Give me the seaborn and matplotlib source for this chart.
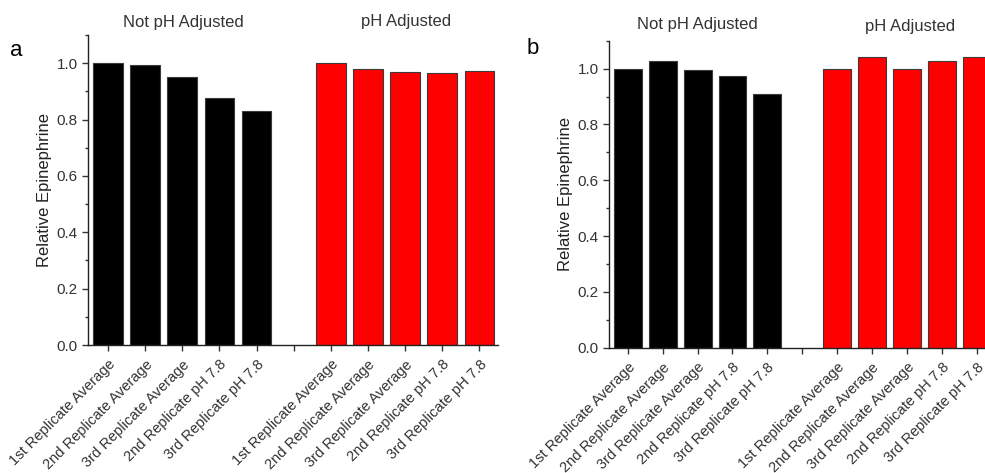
import pandas as pd
import matplotlib.pyplot as plt
import seaborn as sns
from matplotlib.ticker import MultipleLocator

# Data
labels = ["1st Replicate Average", "2nd Replicate Average", "3rd Replicate Average",
          "2nd Replicate pH 7.8", "3rd Replicate pH 7.8"]
group_names = ["Not pH Adjusted", "pH Adjusted"]

a_not_adjusted = [1.000, 0.993, 0.950, 0.877, 0.832]
a_adjusted = [1.000, 0.981, 0.968, 0.965, 0.971]
b_not_adjusted = [1.000, 1.028, 0.994, 0.975, 0.909]
b_adjusted = [1.000, 1.040, 1.000, 1.028, 1.040]

colors = {"Not pH Adjusted": "#000000", "pH Adjusted": "#ff0000"}
TEXT = "#333333"

sns.set_style("ticks")
plt.rcParams['font.family'] = ['Liberation Sans', 'DejaVu Sans']


def make_df(not_adj, adj):
    # positions 0-4, a blank slot at 5, then 6-10
    rows = []
    for i, v in enumerate(not_adj):
        rows.append({'pos': i, 'value': v, 'group': group_names[0]})
    for i, v in enumerate(adj):
        rows.append({'pos': i + 6, 'value': v, 'group': group_names[1]})
    return pd.DataFrame(rows)


def draw_panel(ax, df):
    sns.barplot(data=df, x='pos', y='value', hue='group', palette=colors,
                native_scale=True, dodge=False, width=0.8, saturation=1,
                edgecolor='#3a3a3a', linewidth=0.8, legend=False, ax=ax)
    ax.set_xlim(-0.54, 10.5)
    ax.set_ylim(0, 1.1)
    ax.set_xticks(range(11))
    ax.set_xticklabels(labels + [""] + labels, rotation=45, ha='right',
                       rotation_mode='anchor', fontsize=10.5, color=TEXT)
    ax.yaxis.set_minor_locator(MultipleLocator(0.1))
    ax.set_yticks([0, 0.2, 0.4, 0.6, 0.8, 1.0])
    ax.set_yticklabels(["0.0", "0.2", "0.4", "0.6", "0.8", "1.0"], fontsize=11, color=TEXT)
    ax.tick_params(axis='both', which='major', direction='out', length=4, width=1, color=TEXT)
    ax.tick_params(axis='y', which='minor', direction='out', length=2.5, width=1, color=TEXT)
    ax.tick_params(axis='x', pad=5)
    ax.set_xlabel("")
    ax.set_ylabel("Relative Epinephrine", fontsize=12, color="#222222", labelpad=3)
    for side in ['top', 'right']:
        ax.spines[side].set_visible(False)
    for side in ['left', 'bottom']:
        ax.spines[side].set_color('#222222')
        ax.spines[side].set_linewidth(1.0)


fig = plt.figure(figsize=(9.85, 4.73), dpi=100)
W, H = 985, 473

ax_a = fig.add_axes([88 / W, 1 - 345 / H, 410 / W, 310 / H])
draw_panel(ax_a, make_df(a_not_adjusted, a_adjusted))

ax_b = fig.add_axes([609 / W, 1 - 347.7 / H, 385 / W, 307 / H])
draw_panel(ax_b, make_df(b_not_adjusted, b_adjusted))

# Group titles and panel letters
fig.text(183 / W, 1 - 23 / H, "Not pH Adjusted", ha='center', va='center', fontsize=12, color=TEXT)
fig.text(406 / W, 1 - 21 / H, "pH Adjusted", ha='center', va='center', fontsize=12, color=TEXT)
fig.text(697 / W, 1 - 24 / H, "Not pH Adjusted", ha='center', va='center', fontsize=12, color=TEXT)
fig.text(910 / W, 1 - 26 / H, "pH Adjusted", ha='center', va='center', fontsize=12, color=TEXT)
fig.text(16 / W, 1 - 50 / H, "a", ha='center', va='center', fontsize=16, color='black')
fig.text(533 / W, 1 - 48 / H, "b", ha='center', va='center', fontsize=16, color='black')

fig.savefig("out.png", dpi=100)
